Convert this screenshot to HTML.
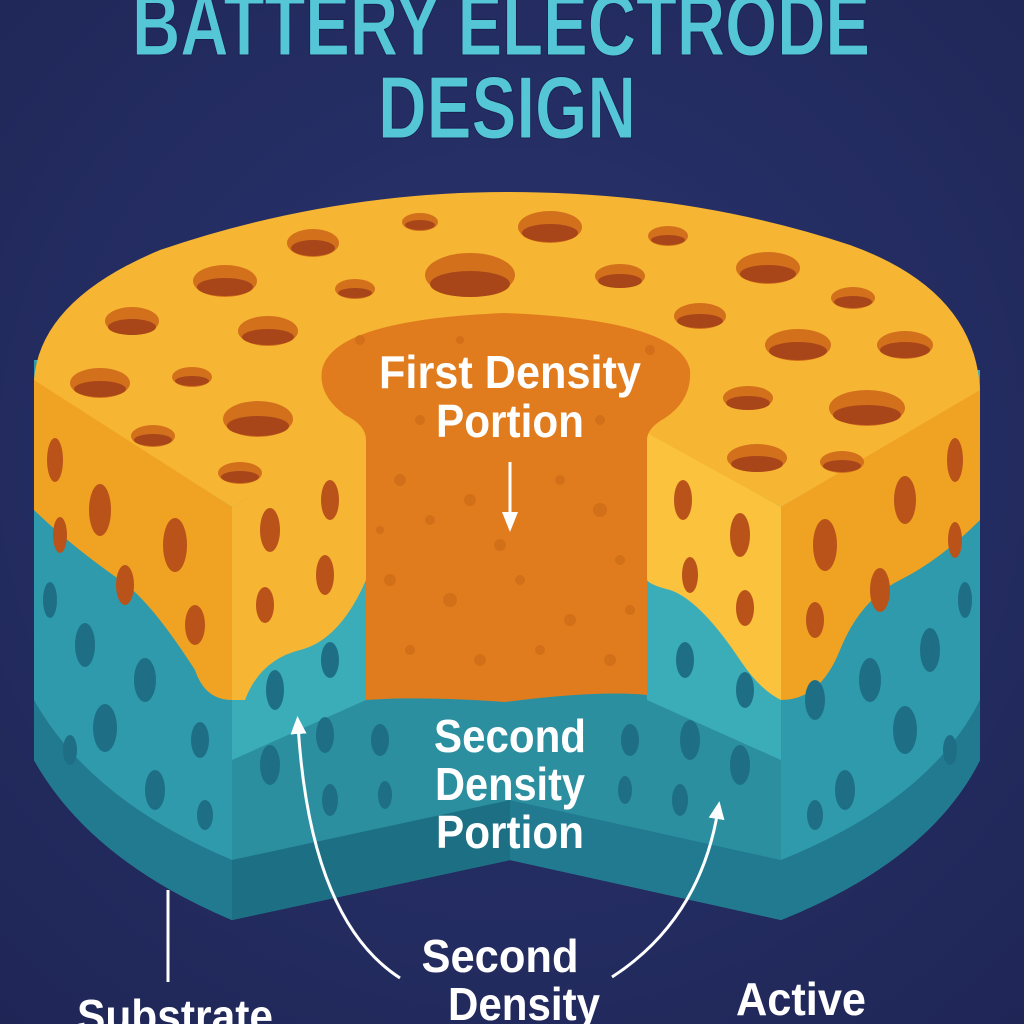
<!DOCTYPE html>
<html><head><meta charset="utf-8"><style>
html,body{margin:0;padding:0;background:#232b5c;}
svg{display:block}
.t{font-family:"Liberation Sans Narrow","Liberation Sans",sans-serif;font-weight:bold;}
</style></head><body>
<svg width="1024" height="1024" viewBox="0 0 1024 1024" xmlns="http://www.w3.org/2000/svg">
<defs>
<radialGradient id="bg" cx="0.5" cy="0.45" r="0.75">
<stop offset="0" stop-color="#2a3570"/><stop offset="1" stop-color="#1f2656"/></radialGradient>
<marker id="ah" markerWidth="18" markerHeight="18" refX="9" refY="9" orient="auto" markerUnits="userSpaceOnUse" viewBox="0 0 18 18">
<path d="M0,1 L18,9 L0,17 z" fill="#fff"/></marker>
</defs>
<rect width="1024" height="1024" fill="url(#bg)"/>

<!-- title -->
<text class="t" x="501" y="55" font-size="88" fill="#55c6d6" stroke="#1a2250" stroke-width="1" text-anchor="middle" textLength="738" lengthAdjust="spacingAndGlyphs">BATTERY ELECTRODE</text>
<text class="t" x="507" y="138" font-size="88" fill="#55c6d6" stroke="#1a2250" stroke-width="1" text-anchor="middle" textLength="258" lengthAdjust="spacingAndGlyphs">DESIGN</text>

<!-- body teal -->
<path d="M34,360 L34,760 Q90,860 232,920 L510,860 L781,920 Q930,860 980,760 L980,370 Z" fill="#3badb9"/>
<path d="M34,360 L232,505 L232,920 Q90,860 34,760 Z" fill="#2f9aab"/>
<path d="M781,505 L980,380 L980,760 Q930,860 781,920 Z" fill="#2f9aab"/>
<path d="M366,433 L647,433 L647,700 L781,760 L781,860 L510,800 L232,860 L232,760 L366,700 Z" fill="#2b8fa0"/>
<path d="M34,700 Q90,800 232,860 L510,800 L781,860 Q930,800 980,700 L980,760 Q930,860 781,920 L510,860 L232,920 Q90,860 34,760 Z" fill="#217a8f"/>
<path d="M232,860 L510,800 L510,860 L232,920 Z" fill="#1d7084"/>

<!-- yellow side upper layer -->
<path d="M34,378 L232,507 L232,700 Q205,700 195,670 Q150,600 120,580 Q70,545 34,510 Z" fill="#f0a322"/>
<path d="M232,507 L366,432 L366,580 Q340,640 300,650 Q260,660 245,700 L232,700 Z" fill="#f7b534"/>
<path d="M647,432 L781,507 L781,700 Q760,690 740,660 Q700,600 670,590 Q650,585 647,580 Z" fill="#fbc23e"/>
<path d="M781,507 L980,388 L980,520 Q940,560 900,580 Q860,600 840,650 Q820,700 781,700 Z" fill="#f0a322"/>

<!-- top face -->
<path d="M34,380 Q40,300 160,250 Q330,192 507,192 Q690,192 850,245 Q975,290 980,390 L781,507 L647,433 L366,433 L232,507 Z" fill="#f6b532"/>

<!-- orange column -->
<path d="M366,700 L366,440 Q366,425 345,415 Q318,395 322,370 Q332,320 505,313 Q680,320 690,370 Q692,400 665,418 Q647,428 647,440 L647,695 Q600,690 505,702 Q420,696 366,700 Z" fill="#e07c1e"/>
<g fill="#cf6c18" opacity="0.8">
<circle cx="400" cy="480" r="6"/><circle cx="430" cy="520" r="5"/><circle cx="470" cy="500" r="6"/><circle cx="560" cy="480" r="5"/><circle cx="600" cy="510" r="7"/><circle cx="620" cy="560" r="5"/><circle cx="390" cy="580" r="6"/><circle cx="450" cy="600" r="7"/><circle cx="520" cy="580" r="5"/><circle cx="570" cy="620" r="6"/><circle cx="410" cy="650" r="5"/><circle cx="480" cy="660" r="6"/><circle cx="540" cy="650" r="5"/><circle cx="610" cy="660" r="6"/><circle cx="360" cy="340" r="5"/><circle cx="650" cy="350" r="5"/><circle cx="460" cy="340" r="4"/><circle cx="600" cy="420" r="5"/><circle cx="420" cy="420" r="5"/><circle cx="500" cy="545" r="6"/><circle cx="380" cy="530" r="4"/><circle cx="630" cy="610" r="5"/>
</g>

<!-- top holes -->
<g>
<g fill="#d2701c">
<ellipse cx="313" cy="243" rx="26" ry="14"/><ellipse cx="420" cy="222" rx="18" ry="9"/><ellipse cx="550" cy="227" rx="32" ry="16"/><ellipse cx="668" cy="236" rx="20" ry="10"/><ellipse cx="470" cy="275" rx="45" ry="22"/><ellipse cx="225" cy="281" rx="32" ry="16"/><ellipse cx="355" cy="289" rx="20" ry="10"/><ellipse cx="620" cy="276" rx="25" ry="12"/><ellipse cx="768" cy="268" rx="32" ry="16"/><ellipse cx="132" cy="321" rx="27" ry="14"/><ellipse cx="268" cy="331" rx="30" ry="15"/><ellipse cx="700" cy="316" rx="26" ry="13"/><ellipse cx="853" cy="298" rx="22" ry="11"/><ellipse cx="100" cy="383" rx="30" ry="15"/><ellipse cx="192" cy="377" rx="20" ry="10"/><ellipse cx="258" cy="419" rx="35" ry="18"/><ellipse cx="153" cy="436" rx="22" ry="11"/><ellipse cx="240" cy="473" rx="22" ry="11"/><ellipse cx="798" cy="345" rx="33" ry="16"/><ellipse cx="905" cy="345" rx="28" ry="14"/><ellipse cx="748" cy="398" rx="25" ry="12"/><ellipse cx="867" cy="408" rx="38" ry="18"/><ellipse cx="757" cy="458" rx="30" ry="14"/><ellipse cx="842" cy="462" rx="22" ry="11"/>
</g>
<g fill="#a8461a">
<ellipse cx="313" cy="248" rx="22" ry="8"/><ellipse cx="420" cy="225" rx="15" ry="5"/><ellipse cx="550" cy="233" rx="28" ry="9"/><ellipse cx="668" cy="240" rx="17" ry="5"/><ellipse cx="470" cy="284" rx="40" ry="13"/><ellipse cx="225" cy="287" rx="28" ry="9"/><ellipse cx="355" cy="293" rx="17" ry="5"/><ellipse cx="620" cy="281" rx="22" ry="7"/><ellipse cx="768" cy="274" rx="28" ry="9"/><ellipse cx="132" cy="327" rx="24" ry="8"/><ellipse cx="268" cy="337" rx="26" ry="8"/><ellipse cx="700" cy="321" rx="23" ry="7"/><ellipse cx="853" cy="302" rx="19" ry="6"/><ellipse cx="100" cy="389" rx="26" ry="8"/><ellipse cx="192" cy="381" rx="17" ry="5"/><ellipse cx="258" cy="426" rx="31" ry="10"/><ellipse cx="153" cy="440" rx="19" ry="6"/><ellipse cx="240" cy="477" rx="19" ry="6"/><ellipse cx="798" cy="351" rx="29" ry="9"/><ellipse cx="905" cy="350" rx="25" ry="8"/><ellipse cx="748" cy="403" rx="22" ry="7"/><ellipse cx="867" cy="415" rx="34" ry="10"/><ellipse cx="757" cy="464" rx="26" ry="8"/><ellipse cx="842" cy="466" rx="19" ry="6"/>
</g>
</g>

<!-- side holes yellow -->
<g fill="#b9531a">
<ellipse cx="55" cy="460" rx="8" ry="22"/><ellipse cx="100" cy="510" rx="11" ry="26"/><ellipse cx="175" cy="545" rx="12" ry="27"/><ellipse cx="125" cy="585" rx="9" ry="20"/><ellipse cx="195" cy="625" rx="10" ry="20"/><ellipse cx="60" cy="535" rx="7" ry="18"/>
<ellipse cx="270" cy="530" rx="10" ry="22"/><ellipse cx="330" cy="500" rx="9" ry="20"/><ellipse cx="325" cy="575" rx="9" ry="20"/><ellipse cx="265" cy="605" rx="9" ry="18"/>
<ellipse cx="683" cy="500" rx="9" ry="20"/><ellipse cx="740" cy="535" rx="10" ry="22"/><ellipse cx="690" cy="575" rx="8" ry="18"/><ellipse cx="745" cy="608" rx="9" ry="18"/>
<ellipse cx="905" cy="500" rx="11" ry="24"/><ellipse cx="825" cy="545" rx="12" ry="26"/><ellipse cx="955" cy="460" rx="8" ry="22"/><ellipse cx="880" cy="590" rx="10" ry="22"/><ellipse cx="955" cy="540" rx="7" ry="18"/><ellipse cx="815" cy="620" rx="9" ry="18"/>
</g>
<g fill="#1e6f86">
<ellipse cx="50" cy="600" rx="7" ry="18"/><ellipse cx="85" cy="645" rx="10" ry="22"/><ellipse cx="145" cy="680" rx="11" ry="22"/><ellipse cx="70" cy="750" rx="7" ry="15"/><ellipse cx="105" cy="728" rx="12" ry="24"/><ellipse cx="155" cy="790" rx="10" ry="20"/><ellipse cx="200" cy="740" rx="9" ry="18"/><ellipse cx="205" cy="815" rx="8" ry="15"/>
<ellipse cx="275" cy="690" rx="9" ry="20"/><ellipse cx="330" cy="660" rx="9" ry="18"/><ellipse cx="270" cy="765" rx="10" ry="20"/><ellipse cx="325" cy="735" rx="9" ry="18"/><ellipse cx="380" cy="740" rx="9" ry="16"/><ellipse cx="330" cy="800" rx="8" ry="16"/><ellipse cx="385" cy="795" rx="7" ry="14"/>
<ellipse cx="630" cy="740" rx="9" ry="16"/><ellipse cx="685" cy="660" rx="9" ry="18"/><ellipse cx="690" cy="740" rx="10" ry="20"/><ellipse cx="745" cy="690" rx="9" ry="18"/><ellipse cx="740" cy="765" rx="10" ry="20"/><ellipse cx="680" cy="800" rx="8" ry="16"/><ellipse cx="625" cy="790" rx="7" ry="14"/>
<ellipse cx="815" cy="700" rx="10" ry="20"/><ellipse cx="870" cy="680" rx="11" ry="22"/><ellipse cx="930" cy="650" rx="10" ry="22"/><ellipse cx="965" cy="600" rx="7" ry="18"/><ellipse cx="905" cy="730" rx="12" ry="24"/><ellipse cx="845" cy="790" rx="10" ry="20"/><ellipse cx="950" cy="750" rx="7" ry="15"/><ellipse cx="815" cy="815" rx="8" ry="15"/>
</g>

<!-- labels -->
<g class="t" fill="#fff" text-anchor="middle" font-size="46">
<text x="510" y="388" textLength="262" lengthAdjust="spacingAndGlyphs">First Density</text>
<text x="510" y="437" textLength="148" lengthAdjust="spacingAndGlyphs">Portion</text>
<text x="510" y="752" textLength="152" lengthAdjust="spacingAndGlyphs">Second</text>
<text x="510" y="800" textLength="150" lengthAdjust="spacingAndGlyphs">Density</text>
<text x="510" y="848" textLength="148" lengthAdjust="spacingAndGlyphs">Portion</text>
<text x="500" y="972" textLength="157" lengthAdjust="spacingAndGlyphs">Second</text>
<text x="524" y="1020" textLength="152" lengthAdjust="spacingAndGlyphs">Density</text>
<text x="175" y="1032" textLength="196" lengthAdjust="spacingAndGlyphs">Substrate</text>
<text x="801" y="1015" textLength="130" lengthAdjust="spacingAndGlyphs">Active</text>
</g>

<!-- arrows -->
<g stroke="#fff" stroke-width="3" fill="none">
<line x1="510" y1="462" x2="510" y2="518"/>
<line x1="168" y1="890" x2="168" y2="982"/>
<path d="M400,978 Q310,920 298,725" marker-end="url(#ah)"/>
<path d="M612,977 Q700,920 718,810" marker-end="url(#ah)"/>
</g>
<path d="M502,512 L518,512 L510,532 Z" fill="#fff"/>
</svg>
</body></html>
